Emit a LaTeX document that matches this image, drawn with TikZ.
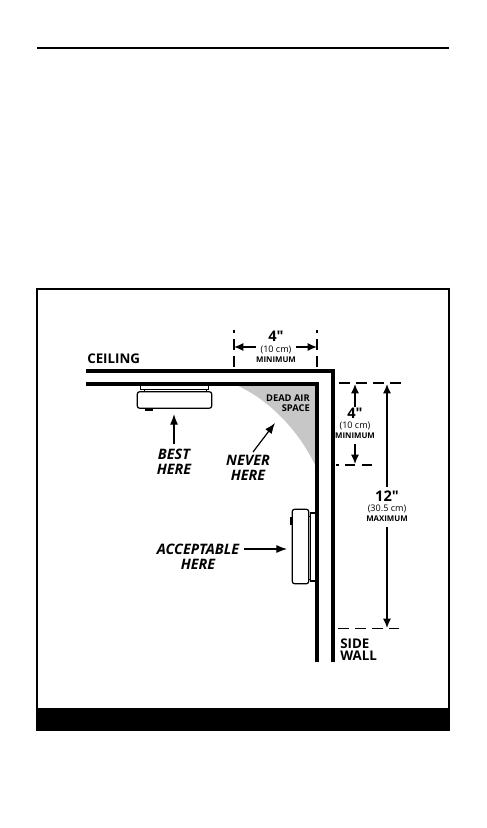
\documentclass[tikz,border=0pt]{standalone}
\usepackage{fontspec}
\setmainfont{Open Sans}
\newfontfamily\dimfont{Open Sans}
\usetikzlibrary{arrows.meta,positioning}
\tikzset{
  wallline/.style={line width=3.2pt,line cap=butt},
  dimdash/.style={line width=1.3pt,dash pattern=on 8.25pt off 4.5pt},
  dimarrow/.style={line width=1pt,-{Latex[length=7pt,width=6pt]}},
  callarrow/.style={line width=0.9pt,-{Latex[length=8pt,width=6pt]}},
  devicebox/.style={draw=black,line width=0.9pt,fill=white,rounded corners=2pt,inner sep=0pt},
  deviceplate/.style={draw=black,line width=0.8pt,fill=white,inner sep=0pt},
  bigdim/.style={font=\dimfont\fontsize{11}{12}\selectfont\bfseries,inner sep=0pt},
  smalldim/.style={font=\fontsize{6.8}{8}\selectfont,inner sep=0pt},
  tinydim/.style={font=\fontsize{5.9}{7}\selectfont\bfseries,inner sep=0pt},
  deadlabel/.style={font=\fontsize{7}{7.5}\selectfont\bfseries,align=right,inner sep=0pt},
  placelabel/.style={font=\fontsize{10.8}{11.2}\selectfont\bfseries\itshape,align=center,inner sep=0pt},
  walllabel/.style={font=\fontsize{10}{9.2}\selectfont\bfseries,align=left,inner sep=0pt}
}
\begin{document}
\begin{tikzpicture}[x=0.75pt,y=-0.75pt]
\useasboundingbox (0,0) rectangle (486,828);
\fill[white] (0,0) rectangle (486,828);
% top rule and frame
\draw[line width=1pt] (37,48)--(449,48);
\draw[line width=1.5pt] (37,289) rectangle (449,730);
\fill[black] (37,708) rectangle (449,730);
% dead air
\fill[black!22] (236,385) .. controls (266,398) and (298,428) .. (316,467) -- (316,385) -- cycle;
% walls
\draw[wallline] (86,371)--(333,371)--(333,662);
\draw[wallline] (86,384)--(317,384)--(317,662);
% ceiling detector
\node[deviceplate,minimum width=47pt,minimum height=6pt] (neckA) at (175.5,389) {};
\node[deviceplate,minimum width=51pt,minimum height=3.2pt] (plateA) at (174.5,387.3) {};
\fill[black] (145,408) rectangle (153,411);
\node[devicebox,minimum width=56pt,minimum height=12.5pt] (bodyA) at (174.5,400) {};
% wall detector
\node[deviceplate,minimum width=3pt,minimum height=47pt] (neckB) at (310.5,548) {};
\node[deviceplate,minimum width=4pt,minimum height=51pt] (plateB) at (313,547) {};
\fill[black] (290,517) rectangle (293,525);
\node[devicebox,minimum width=12.5pt,minimum height=56pt] (bodyB) at (300.5,546.5) {};
% labels
\node[walllabel,anchor=west] (ceil) at (87,359) {CEILING};
\node[walllabel,anchor=west] (side) at (340,650) {SIDE\\WALL};
\node[deadlabel,anchor=east] (dead) at (310,403) {DEAD AIR\\SPACE};
\node[placelabel] (best) at (174,462) {BEST\\HERE};
\node[placelabel] (never) at (248,468) {NEVER\\HERE};
\node[placelabel] (accept) at (198,557) {ACCEPTABLE\\HERE};
\coordinate (bestup) at (174,444);
\coordinate (bestend) at (174,414);
\coordinate (neverup) at (253,452);
\coordinate (neverend) at (275,423);
\coordinate (acceptfrom) at (244,549);
\coordinate (acceptend) at (287,549);
\draw[callarrow] (bestup)--(bestend);
\draw[callarrow] (neverup)--(neverend);
\draw[callarrow,line width=0.8pt] (acceptfrom)--(acceptend);
% top dimension
\coordinate (tl) at (234,367);
\coordinate (tr) at (317,367);
\draw[dimdash] (tl)--(234,330);
\draw[dimdash] (tr)--(317,330);
\node[bigdim] (topfour) at (276,336) {4"};
\node[smalldim] (topcm) at (276,349.5) {(10 cm)};
\node[tinydim] (topmin) at (276,360) {MINIMUM};
\coordinate (tla) at (256,347);
\coordinate (tra) at (296,347);
\draw[dimarrow] (tla)--(tl |- tla);
\draw[dimarrow] (tra)--(tr |- tra);
% right dimensions
\coordinate (ra) at (339,383);
\coordinate (rb) at (336,465);
\coordinate (rc) at (338,628.5);
\draw[dimdash] (ra)--(401,383);
\draw[line width=0.8pt,dash pattern=on 2.25pt off 4.5pt on 7.5pt off 5.25pt on 7.5pt off 5pt] (rb)--(372,465);
\draw[dimdash] (rc)--(399,628.5);
\node[bigdim] (rfour) at (355,413) {4"};
\node[smalldim] (rcm) at (355,425.5) {(10 cm)};
\node[tinydim] (rmin) at (355,436) {MINIMUM};
\coordinate (rfup) at (355,407);
\coordinate (rfdn) at (355,444);
\draw[dimarrow] (rfup)--(355,384);
\draw[dimarrow] (rfdn)--(355,464);
\node[bigdim] (twelve) at (387,496) {12"};
\node[smalldim] (twcm) at (387,508.5) {(30.5 cm)};
\node[tinydim] (twmax) at (387,519) {MAXIMUM};
\coordinate (twup) at (387,487);
\coordinate (twdn) at (387,527);
\draw[dimarrow] (twup)--(387,384);
\draw[dimarrow] (twdn)--(387,628);
\end{tikzpicture}
\end{document}
